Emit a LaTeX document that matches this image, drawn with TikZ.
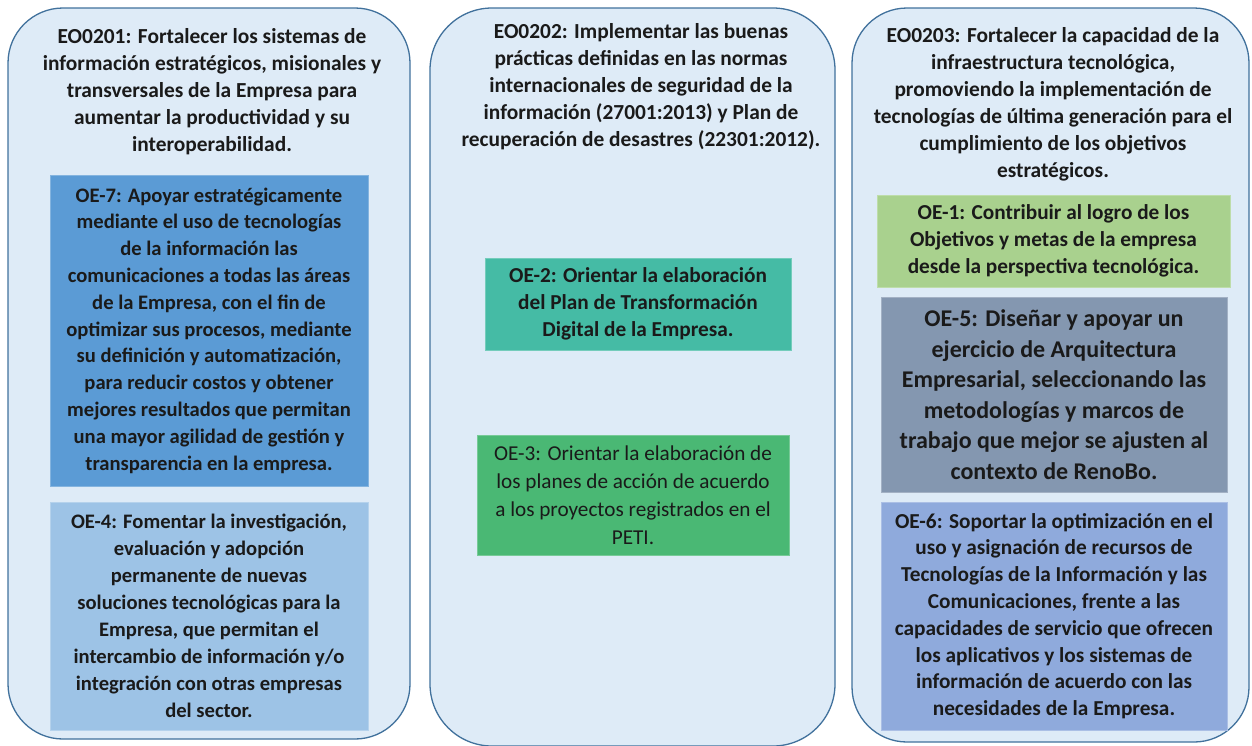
\documentclass[tikz,border=0pt]{standalone}
\usepackage{fontspec}
\setmainfont{Carlito}
\definecolor{outerfill}{HTML}{DEEBF7}
\definecolor{outerline}{HTML}{41719C}
\definecolor{oeseven}{HTML}{5B9BD5}
\definecolor{oefour}{HTML}{9DC3E6}
\definecolor{oetwo}{HTML}{45BBA5}
\definecolor{oethree}{HTML}{4AB874}
\definecolor{oeone}{HTML}{A9D18E}
\definecolor{oefive}{HTML}{8497B0}
\definecolor{oesix}{HTML}{8FAADC}
\definecolor{txt}{HTML}{1A1A1A}
\tikzset{
  outerbox/.style={draw=outerline, line width=1.3pt, fill=outerfill, rounded corners=55pt, inner sep=0pt},
  titletext/.style={text=txt, align=center, font=\fontsize{21.4}{27}\selectfont\bfseries, inner sep=0pt},
  oebox/.style={fill=#1, draw=#1!75!white, line width=1pt, align=center, text=txt, inner sep=0pt,
    font=\fontsize{21.3}{26.8}\selectfont\bfseries},
}
\begin{document}
\begin{tikzpicture}[x=1pt,y=-1pt]
\useasboundingbox (0,0) rectangle (1252,745);
% outer columns
\draw[outerbox] (8,8) rectangle (410,739);
\draw[outerbox, rounded corners=62pt] (430,8) rectangle (835,746);
\draw[outerbox] (852,8) rectangle (1249,742);
% titles
\node[titletext] (t1) at (212,92) {EO0201: Fortalecer los sistemas de\\información estratégicos, misionales y\\transversales de la Empresa para\\aumentar la productividad y su\\interoperabilidad.};
\node[titletext] (t2) at (641,87) {EO0202: Implementar las buenas\\prácticas definidas en las normas\\internacionales de seguridad de la\\información (27001:2013) y Plan de\\recuperación de desastres (22301:2012).};
\node[titletext] (t3) at (1053,104) {EO0203: Fortalecer la capacidad de la\\infraestructura tecnológica,\\promoviendo la implementación de\\tecnologías de última generación para el\\cumplimiento de los objetivos\\estratégicos.};
% left column
\node[oebox=oeseven, minimum width=318pt, minimum height=311pt, font=\fontsize{20.6}{26.8}\selectfont\bfseries] (oe7) at (209,330.5) {OE-7: Apoyar estratégicamente\\mediante el uso de tecnologías\\de la información las\\comunicaciones a todas las áreas\\de la Empresa, con el fin de\\optimizar sus procesos, mediante\\su definición y automatización,\\para reducir costos y obtener\\mejores resultados que permitan\\una mayor agilidad de gestión y\\transparencia en la empresa.};
\node[oebox=oefour, minimum width=318pt, minimum height=228pt, font=\fontsize{20.6}{27}\selectfont\bfseries] (oe4) at (209,616) {OE-4: Fomentar la investigación,\\evaluación y adopción\\permanente de nuevas\\soluciones tecnológicas para la\\Empresa, que permitan el\\intercambio de información y/o\\integración con otras empresas\\del sector.};
% middle column
\node[oebox=oetwo, minimum width=306pt, minimum height=92pt] (oe2) at (638,304) {OE-2: Orientar la elaboración\\del Plan de Transformación\\Digital de la Empresa.};
\node[oebox=oethree, minimum width=312pt, minimum height=120pt, font=\fontsize{21.2}{28}\selectfont] (oe3) at (633,495) {OE-3: Orientar la elaboración de\\los planes de acción de acuerdo\\a los proyectos registrados en el\\PETI.};
% right column
\node[oebox=oeone, minimum width=353pt, minimum height=92pt] (oe1) at (1053.5,241) {OE-1: Contribuir al logro de los\\Objetivos y metas de la empresa\\desde la perspectiva tecnológica.};
\node[oebox=oefive, minimum width=346pt, minimum height=195pt, font=\fontsize{24}{30.5}\selectfont\bfseries] (oe5) at (1054,394.5) {OE-5: Diseñar y apoyar un\\ejercicio de Arquitectura\\Empresarial, seleccionando las\\metodologías y marcos de\\trabajo que mejor se ajusten al\\contexto de RenoBo.};
\node[oebox=oesix, minimum width=346pt, minimum height=228pt] (oe6) at (1054,616) {OE-6: Soportar la optimización en el\\uso y asignación de recursos de\\Tecnologías de la Información y las\\Comunicaciones, frente a las\\capacidades de servicio que ofrecen\\los aplicativos y los sistemas de\\información de acuerdo con las\\necesidades de la Empresa.};
\end{tikzpicture}
\end{document}
